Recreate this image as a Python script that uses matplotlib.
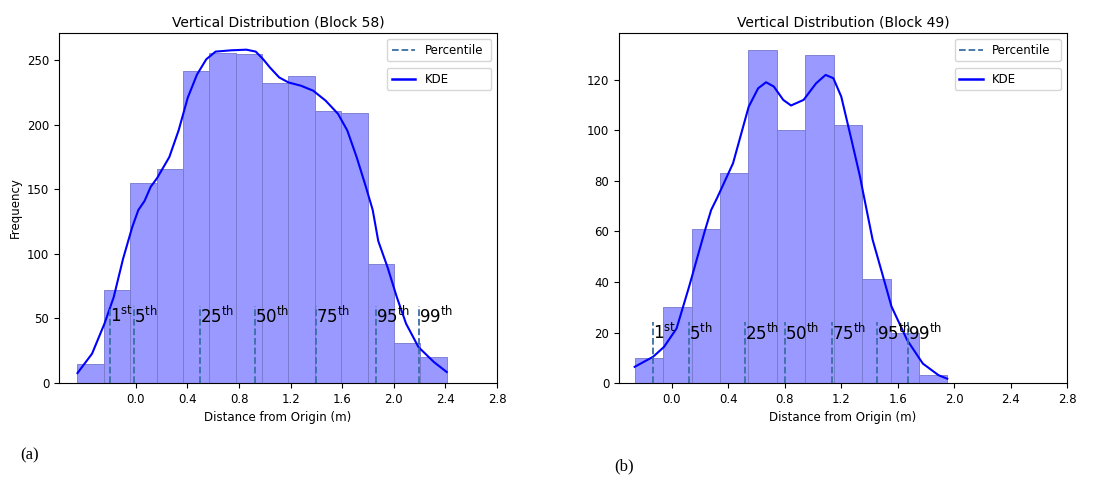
import numpy as np
import matplotlib
matplotlib.use('Agg')
import matplotlib.pyplot as plt
from matplotlib.lines import Line2D

# ---- Block 58 (left) ----
edges58 = [-0.453, -0.249, -0.044, 0.161, 0.365, 0.570, 0.774, 0.979,
           1.183, 1.388, 1.592, 1.797, 2.001, 2.206, 2.410]
counts58 = [15, 72, 155, 166, 242, 256, 255, 232, 238, 211, 209, 92, 31, 20]
kde58_x = [-0.453, -0.34, -0.244, -0.172, -0.1, -0.029, 0.019, 0.067, 0.115,
           0.163, 0.259, 0.331, 0.402, 0.474, 0.546, 0.618, 0.738, 0.857,
           0.929, 0.985, 1.039, 1.111, 1.183, 1.279, 1.375, 1.471, 1.567,
           1.639, 1.711, 1.783, 1.836, 1.879, 1.951, 2.023, 2.095, 2.191,
           2.311, 2.41]
kde58_y = [7.7, 22.7, 45.9, 66.5, 96, 120.6, 134, 141, 152,
           158.5, 175, 195.6, 221, 239, 250.8, 256.7, 257.7, 258.2,
           256.7, 251, 244.4, 236.7, 232.8, 230.3, 226.4, 218.7, 208.5,
           195.6, 175.1, 152, 134, 110, 89.7, 66.5, 45.9, 27.8,
           16.2, 8.5]
pct58 = [-0.204, -0.012, 0.498, 0.922, 1.399, 1.862, 2.198]

# ---- Block 49 (right) ----
edges49 = [-0.264, -0.063, 0.139, 0.340, 0.542, 0.743, 0.945, 1.146,
           1.347, 1.549, 1.750, 1.951]
counts49 = [10, 30, 61, 83, 132, 100, 130, 102, 41, 20, 3]
kde49_x = [-0.264, -0.133, -0.056, 0.033, 0.122, 0.233, 0.278, 0.322, 0.433,
           0.544, 0.611, 0.667, 0.722, 0.789, 0.844, 0.933, 1.022, 1.089,
           1.144, 1.2, 1.267, 1.333, 1.353, 1.422, 1.489, 1.556, 1.667,
           1.778, 1.889, 1.951]
kde49_y = [6.4, 10.4, 14.3, 21.6, 38.2, 60.2, 68.5, 73.5, 87,
           109.4, 116.7, 119.1, 117.4, 112.1, 109.9, 112.1, 118.7, 122,
           120.7, 113.4, 97.6, 81.7, 76, 56.8, 43.6, 30.3, 17,
           7.7, 3.1, 1.7]
pct49 = [-0.133, 0.118, 0.518, 0.804, 1.133, 1.451, 1.671]

pct_labels = [r'1$^{\mathrm{st}}$', r'5$^{\mathrm{th}}$', r'25$^{\mathrm{th}}$',
              r'50$^{\mathrm{th}}$', r'75$^{\mathrm{th}}$', r'95$^{\mathrm{th}}$',
              r'99$^{\mathrm{th}}$']
xticks = [0.0, 0.4, 0.8, 1.2, 1.6, 2.0, 2.4, 2.8]

bar_face = '#9999ff'
bar_edge = '#7777cc'
pct_color = '#3a6ea5'

fig = plt.figure(figsize=(11.07, 4.79), dpi=100)
ax1 = fig.add_axes([0.0533, 0.2004, 0.3957, 0.7307])
ax2 = fig.add_axes([0.5592, 0.2004, 0.4047, 0.7307])


def draw_panel(ax, edges, counts, kx, ky, pcts, line_top, title, yticks):
    edges = np.array(edges)
    widths = np.diff(edges)
    ax.bar(edges[:-1], counts, width=widths, align='edge', color=bar_face,
           edgecolor=bar_edge, linewidth=0.6)
    ax.plot(kx, ky, color='blue', linewidth=1.5)
    for x, lab in zip(pcts, pct_labels):
        ax.plot([x, x], [0, line_top], linestyle='--', color=pct_color, linewidth=1.3)
        ax.text(x, line_top, lab, ha='left', va='top', fontsize=12)
    ax.set_xlim(right=2.8)
    ax.set_xticks(xticks)
    ax.set_xticklabels([f'{t:.1f}' for t in xticks])
    ax.set_yticks(yticks)
    ax.tick_params(labelsize=8.5)
    ax.set_xlabel('Distance from Origin (m)', fontsize=8.5)
    ax.set_title(title, fontsize=10, pad=5)

    h_pct = [Line2D([0], [0], linestyle='--', color=pct_color, linewidth=1.3)]
    h_kde = [Line2D([0], [0], color='blue', linewidth=1.8)]
    leg1 = ax.legend(h_pct, ['Percentile'], loc='upper left', mode='expand',
                     bbox_to_anchor=(0.749, 0.5, 0.237, 0.483), borderaxespad=0,
                     fontsize=8.5)
    ax.add_artist(leg1)
    ax.legend(h_kde, ['KDE'], loc='upper left', mode='expand',
              bbox_to_anchor=(0.749, 0.4, 0.237, 0.5), borderaxespad=0,
              fontsize=8.5)


draw_panel(ax1, edges58, counts58, kde58_x, kde58_y, pct58, 60,
           'Vertical Distribution (Block 58)', [0, 50, 100, 150, 200, 250])
ax1.set_ylabel('Frequency', fontsize=8.5)
draw_panel(ax2, edges49, counts49, kde49_x, kde49_y, pct49, 24,
           'Vertical Distribution (Block 49)', [0, 20, 40, 60, 80, 100, 120])

fig.text(0.027, 0.05, '(a)', fontsize=12, family='Liberation Serif',
         ha='center', va='center')
fig.text(0.564, 0.027, '(b)', fontsize=12, family='Liberation Serif',
         ha='center', va='center')

fig.savefig('out.png', dpi=100)
